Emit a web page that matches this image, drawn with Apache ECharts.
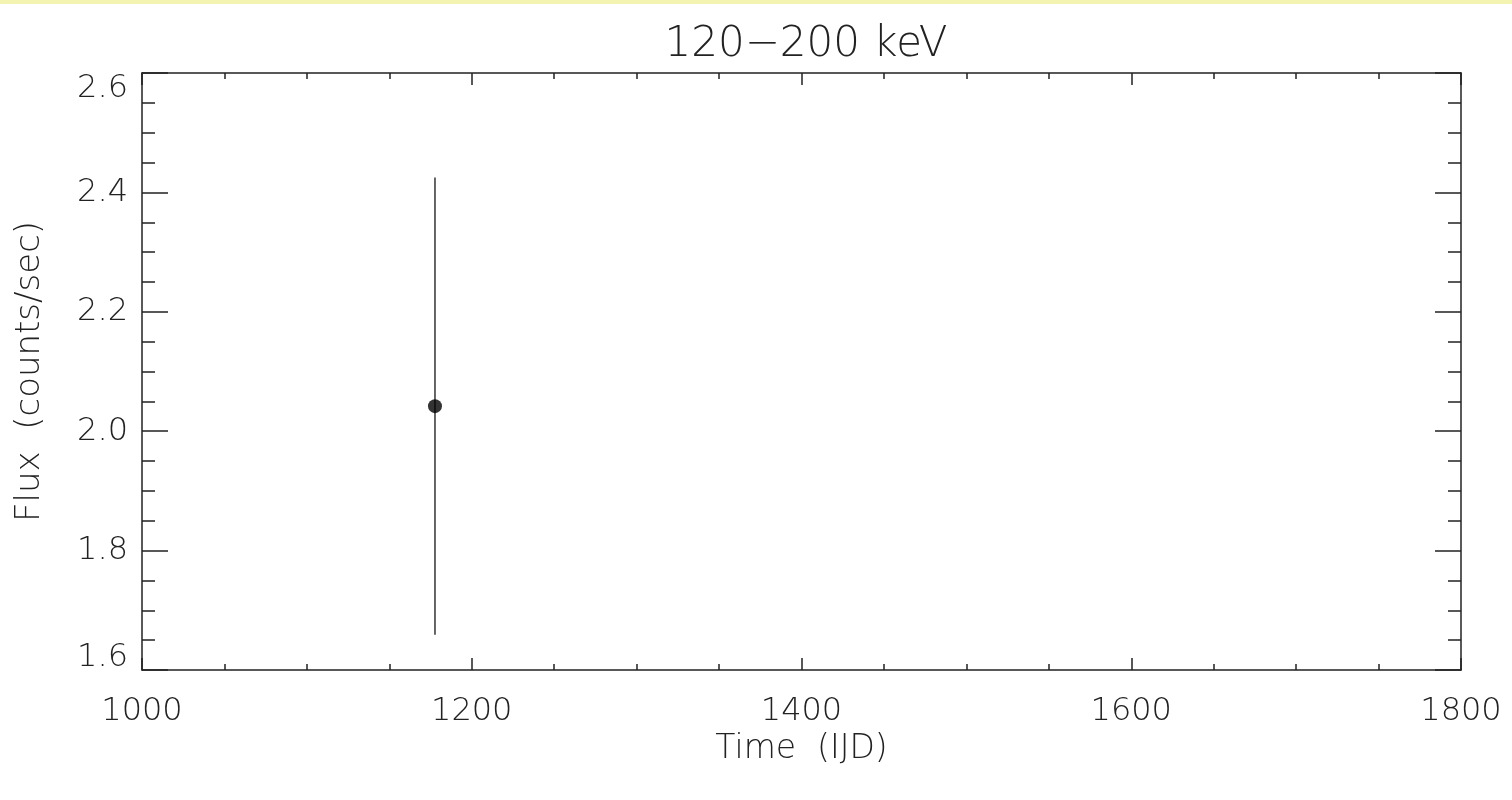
<!DOCTYPE html>
<html>
<head>
<meta charset="utf-8">
<title>120-200 keV</title>
<script src="https://cdn.jsdelivr.net/npm/echarts@6/dist/echarts.min.js"></script>
<style>
  html, body { margin: 0; padding: 0; background: #fff; }
  #chartmain { width: 1512px; height: 800px; }
</style>
</head>
<body>
<div id="chartmain"></div>
<script type="text/javascript">
    // data
    var time = [1177.7];
    var flux = [2.042];
    var fluxErr = [0.383];
    var xTicks = [1000, 1200, 1400, 1600, 1800];
    var yTicks = [1.6, 1.8, 2.0, 2.2, 2.4, 2.6];

    var points = time.map(function (t, i) { return [t, flux[i]]; });
    var bars = time.map(function (t, i) { return [t, flux[i] - fluxErr[i], flux[i] + fluxErr[i]]; });

    var ink = '#222';
    var font = 'DejaVu Sans';

    function axisBase(extra) {
        var a = {
            type: 'value',
            axisLine: { show: true, lineStyle: { color: ink, width: 1.5 } },
            splitLine: { show: false },
            axisLabel: { show: false }
        };
        for (var k in extra) a[k] = extra[k];
        return a;
    }

    var myChart = echarts.init(document.getElementById('chartmain'));
    myChart.setOption({
        animation: false,
        backgroundColor: '#fff',
        title: {
            text: '120\u2212200 keV',
            left: 801,
            textAlign: 'center',
            top: 19,
            textStyle: { fontFamily: font, fontWeight: 200, fontSize: 42, color: ink }
        },
        graphic: [{
            type: 'rect',
            shape: { x: 0, y: 0, width: 1512, height: 4 },
            style: { fill: '#f3f3b2' }
        }],
        grid: { left: 142, right: 51, top: 73, bottom: 130 },
        xAxis: [
            axisBase({
                position: 'bottom', min: xTicks[0], max: xTicks[xTicks.length - 1], interval: 200,
                axisTick: { show: true, inside: true, length: 12, lineStyle: { color: ink, width: 1.5 } },
                minorTick: { show: true, splitNumber: 4, length: 6, lineStyle: { color: ink, width: 1.5 } },
                axisLabel: {
                    show: true, margin: 26, color: ink, fontFamily: font, fontWeight: 200, fontSize: 32,
                    showMinLabel: true, showMaxLabel: true,
                    formatter: function (v) { return String(v); }
                },
                name: 'Time  (IJD)', nameLocation: 'middle', nameGap: 62,
                nameTextStyle: { color: ink, fontFamily: font, fontWeight: 200, fontSize: 33 }
            }),
            axisBase({
                position: 'top', min: xTicks[0], max: xTicks[xTicks.length - 1], interval: 200,
                axisTick: { show: true, inside: true, length: 12, lineStyle: { color: ink, width: 1.5 } },
                minorTick: { show: true, splitNumber: 4, length: 6, lineStyle: { color: ink, width: 1.5 } }
            })
        ],
        yAxis: [
            axisBase({
                position: 'left', min: yTicks[0], max: yTicks[yTicks.length - 1], interval: 0.2,
                axisTick: { show: true, inside: true, length: 26, lineStyle: { color: ink, width: 1.5 } },
                minorTick: { show: true, splitNumber: 4, length: 13, lineStyle: { color: ink, width: 1.5 } },
                axisLabel: {
                    show: true, margin: 14, color: ink, fontFamily: font, fontWeight: 200, fontSize: 32,
                    verticalAlignMinLabel: 'bottom', verticalAlignMaxLabel: 'top',
                    formatter: function (v) {
                        var s = v.toFixed(1);
                        return Math.abs(v - yTicks[0]) < 1e-9 ? '{lo|' + s + '}' : s;
                    },
                    rich: {
                        lo: { fontFamily: font, fontWeight: 200, fontSize: 32, color: ink, lineHeight: 24 }
                    }
                },
                name: 'Flux  (counts/sec)', nameLocation: 'middle', nameGap: 95,
                nameTextStyle: { color: ink, fontFamily: font, fontWeight: 200, fontSize: 34 }
            }),
            axisBase({
                position: 'right', min: yTicks[0], max: yTicks[yTicks.length - 1], interval: 0.2,
                axisTick: { show: true, inside: true, length: 26, lineStyle: { color: ink, width: 1.5 } },
                minorTick: { show: true, splitNumber: 4, length: 13, lineStyle: { color: ink, width: 1.5 } }
            })
        ],
        series: [
            {
                name: 'err',
                type: 'custom',
                xAxisIndex: 0,
                yAxisIndex: 0,
                data: bars,
                renderItem: function (params, api) {
                    var lo = api.coord([api.value(0), api.value(1)]);
                    var hi = api.coord([api.value(0), api.value(2)]);
                    return {
                        type: 'line',
                        shape: { x1: lo[0], y1: lo[1], x2: hi[0], y2: hi[1] },
                        style: { stroke: '#333', lineWidth: 1.5 }
                    };
                }
            },
            {
                name: 'flux',
                type: 'scatter',
                xAxisIndex: 0,
                yAxisIndex: 0,
                symbol: 'circle',
                symbolSize: 14,
                itemStyle: { color: '#000' },
                data: points
            }
        ]
    });
</script>
</body>
</html>
